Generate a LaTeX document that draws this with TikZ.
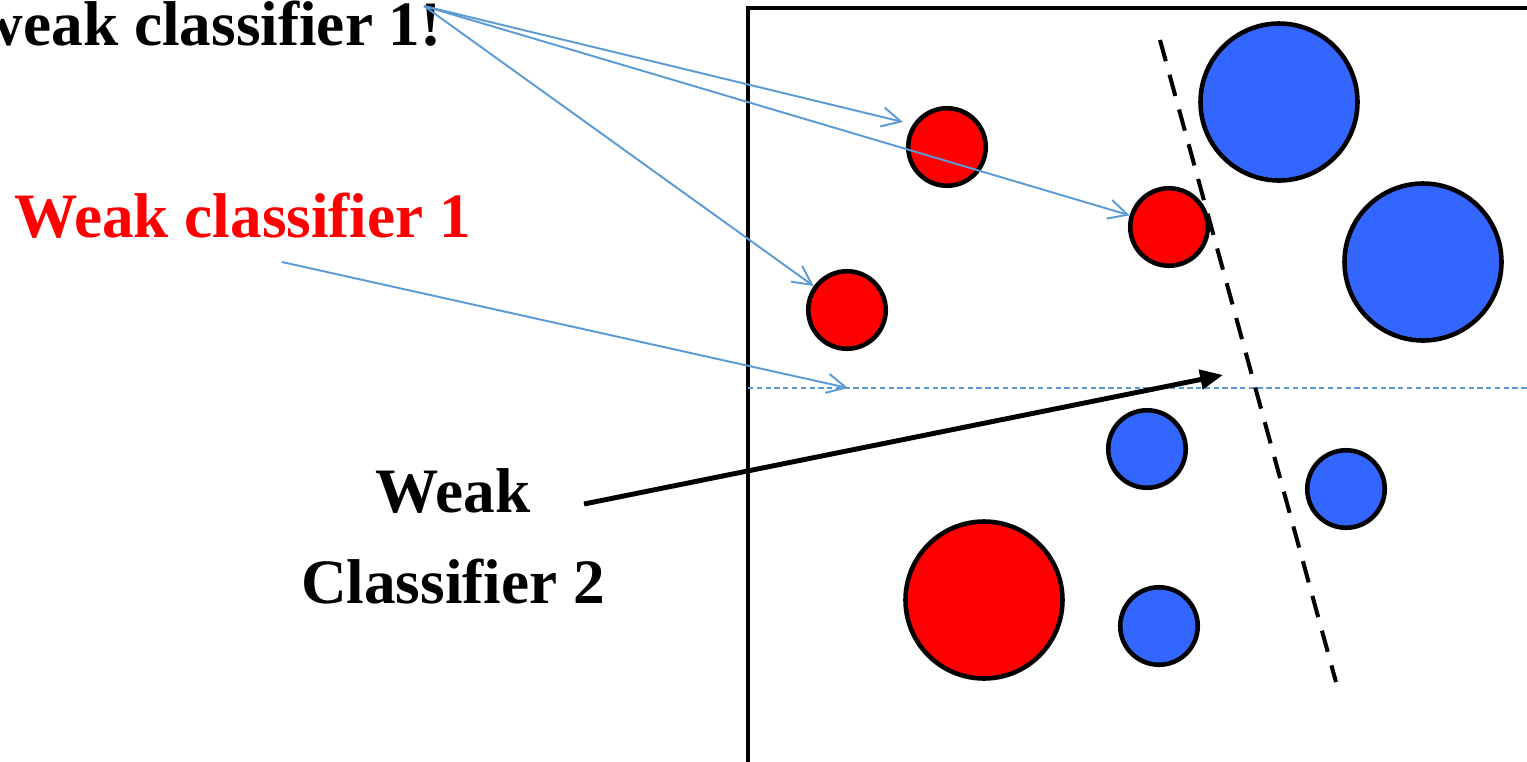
\documentclass[tikz,border=0pt]{standalone}
\usepackage{fontspec}
\setmainfont{Liberation Serif}
\usetikzlibrary{arrows.meta}
\definecolor{ptred}{HTML}{FF0000}
\definecolor{ptblue}{HTML}{3366FF}
\definecolor{hint}{HTML}{5B9BD5}

\begin{document}
\begin{tikzpicture}[x=0.2mm,y=-0.2mm,
  sample/.style={circle,draw=black,line width=2.6pt,inner sep=0pt,minimum size=#1},
  lbl/.style={font=\bfseries\fontsize{36}{51.6}\selectfont,inner sep=0pt},
  hintarrow/.style={draw=hint,line width=1.1pt,-{Straight Barb[length=10.8pt,width=11pt]}}]
  \useasboundingbox (0,0) rectangle (1527,761);
  \draw[line width=2.6pt] (748,770) -- (748,8) -- (1540,8);
  \draw[hint,line width=0.8pt,dash pattern=on 3pt off 2pt] (748,388) -- (1527,388);
  \foreach \n/\x/\y/\d in {r1/947/147/15.5mm,r2/1169/227/15.5mm,r3/847/310/15.5mm,r4/984/600/31.4mm}{
     \node[sample=\d,fill=ptred] (\n) at (\x,\y) {};}
  \foreach \n/\x/\y/\d in {b1/1279/102/31.4mm,b2/1423/262/31.4mm,b3/1147/449/15.5mm,b4/1346/489/15.5mm,b5/1159/626/15.5mm}{
     \node[sample=\d,fill=ptblue] (\n) at (\x,\y) {};}
  \coordinate (sepa) at (1160,40);
  \coordinate (sepb) at (1336,682);
  \draw[line width=2.3pt,dash pattern=on 12.5pt off 8pt] (sepa) -- (sepb);
  \node[lbl,anchor=base east] (miss) at (442,45) {weak classifier 1!};
  \node[lbl,text=ptred,anchor=base west] (wc1) at (14,237) {Weak classifier 1};
  \node[lbl,align=center,anchor=base] (wc2) at (453,603) {Weak\\Classifier 2};
  \coordinate (src) at (424,6);
  \coordinate (t1) at (903,122);
  \coordinate (wc1src) at (282,262);
  \coordinate (t4) at (848,388);
  \draw[hintarrow] (src) -- (t1);
  \draw[hintarrow] (src) -- (r2);
  \draw[hintarrow] (src) -- (r3);
  \draw[hintarrow] (wc1src) -- (t4);
  \coordinate (wc2src) at (584,504);
  \coordinate (wc2tip) at (1223,375);
  \draw[line width=2.8pt,-{Triangle[length=13pt,width=11pt]}] (wc2src) -- (wc2tip);
\end{tikzpicture}
\end{document}
